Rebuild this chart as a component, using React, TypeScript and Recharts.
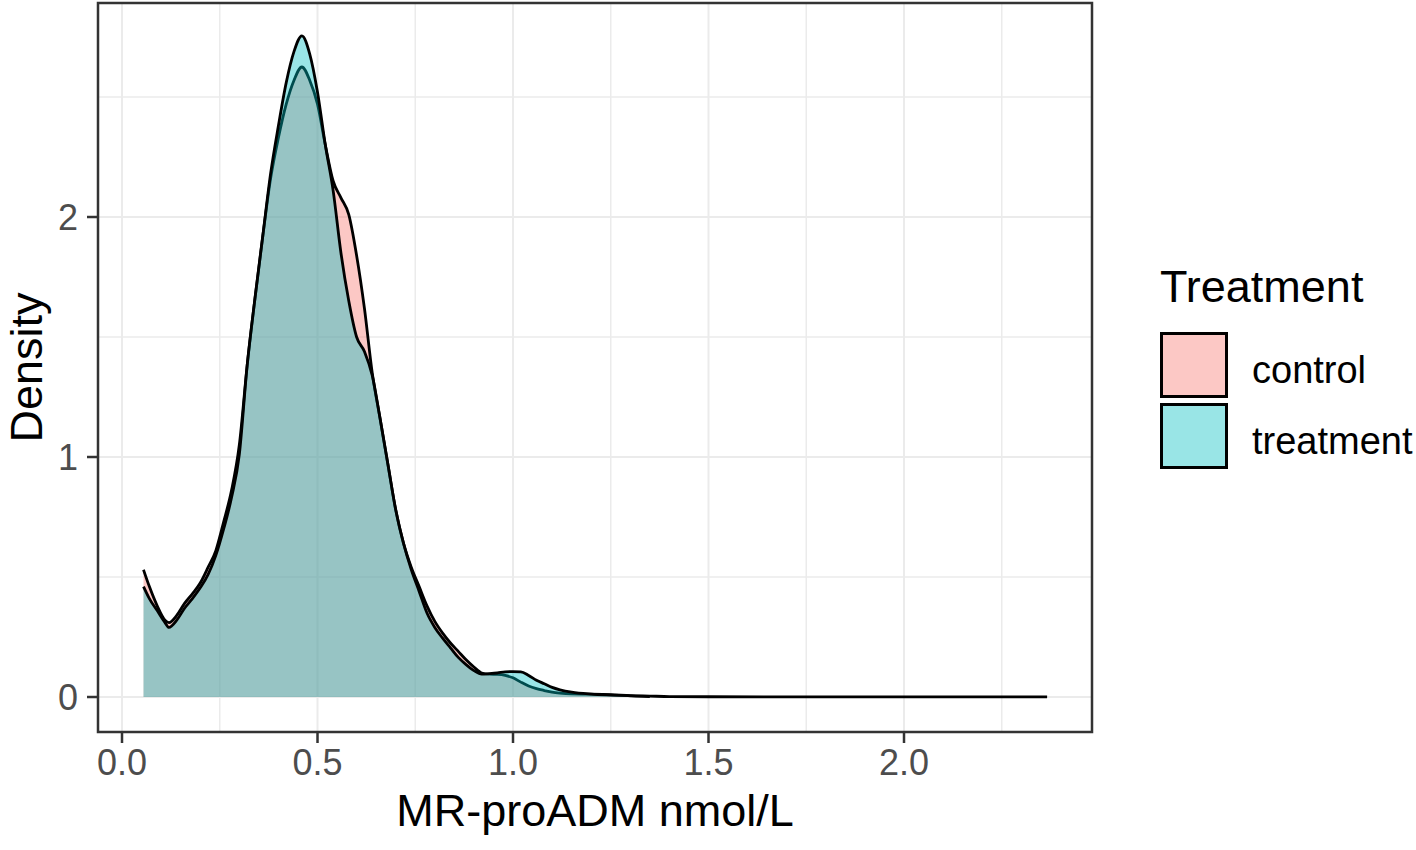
import React from 'react';
import {
  ComposedChart,
  Area,
  XAxis,
  YAxis,
  CartesianGrid,
  ReferenceArea,
  Legend,
} from 'recharts';

const xs = [
  0.055, 0.07, 0.09, 0.11, 0.12, 0.14, 0.16, 0.18, 0.2, 0.22, 0.24, 0.26, 0.28, 0.3,
  0.32, 0.34, 0.36, 0.38, 0.4, 0.42, 0.44, 0.46, 0.48, 0.5, 0.52, 0.54, 0.56, 0.58,
  0.6, 0.62, 0.64, 0.66, 0.68, 0.7, 0.72, 0.74, 0.76, 0.78, 0.8, 0.82, 0.84, 0.86,
  0.88, 0.9, 0.92, 0.94, 0.96, 0.98, 1.0, 1.02, 1.04, 1.06, 1.08, 1.1, 1.12, 1.15,
  1.2, 1.25, 1.3, 1.35, 1.4, 1.5, 1.75, 2.0, 2.25, 2.366,
];

const control = [
  0.53, 0.46, 0.38, 0.32, 0.31, 0.34, 0.39, 0.43, 0.475, 0.54, 0.61, 0.73, 0.86, 1.05,
  1.38, 1.66, 1.92, 2.16, 2.33, 2.47, 2.57, 2.625, 2.57, 2.47, 2.3, 2.15, 2.08, 2.01,
  1.84, 1.62, 1.35, 1.16, 0.97, 0.78, 0.64, 0.54, 0.46, 0.38, 0.315, 0.266, 0.225, 0.19,
  0.155, 0.125, 0.1, 0.095, 0.094, 0.09, 0.08, 0.062, 0.046, 0.035, 0.027, 0.02, 0.016, 0.013,
  0.012, 0.01, 0.006, 0.004, 0.002, 0.001, 0.0005, 0.0003, 0.0002, 0.0002,
];

const treatment = [
  0.46, 0.41, 0.36, 0.31, 0.29, 0.32, 0.37, 0.41, 0.455, 0.51, 0.59, 0.7, 0.83, 1.01,
  1.38, 1.66, 1.92, 2.18, 2.38, 2.56, 2.69, 2.755, 2.68, 2.52, 2.3, 2.11, 1.85, 1.65,
  1.5, 1.44, 1.34, 1.16, 0.97, 0.78, 0.64, 0.53, 0.44, 0.35, 0.29, 0.245, 0.205, 0.165,
  0.135, 0.11, 0.095, 0.097, 0.1, 0.105, 0.106, 0.105, 0.09, 0.07, 0.055, 0.04, 0.03, 0.02,
  0.012, 0.008, 0.005, 0.002, null, null, null, null, null, null,
];

const xTicks = [0, 0.5, 1, 1.5, 2];
const xMinor = [0.25, 0.75, 1.25, 1.75, 2.25];
const yTicks = [0, 1, 2];
const yMinor = [0.5, 1.5, 2.5];

const X_DOMAIN: [number, number] = [-0.0614, 2.4808];
const Y_DOMAIN: [number, number] = [-0.1458, 2.8917];

const data = xs.map((x, i) => ({ x, control: control[i], treatment: treatment[i] }));

const FONT = '"Liberation Sans", Arial, Helvetica, sans-serif';
const keyFills: Record<string, string> = { control: '#FCC8C5', treatment: '#99E5E6' };

const renderLegend = (props: any) => {
  const payload = props.payload || [];
  return (
    <div style={{ fontFamily: FONT, color: '#000', textAlign: 'left' }}>
      <div style={{ fontSize: 45, lineHeight: '50px', whiteSpace: 'nowrap' }}>Treatment</div>
      <div style={{ marginTop: 20 }}>
        {payload.map((entry: any) => (
          <div key={entry.value} style={{ display: 'flex', height: 66, marginBottom: 5 }}>
            <div
              style={{
                width: 68,
                height: 66,
                boxSizing: 'border-box',
                border: '3px solid #000',
                background: keyFills[entry.dataKey] || '#ccc',
              }}
            />
            <div style={{ marginLeft: 24, fontSize: 38, lineHeight: '66px', paddingTop: 5, whiteSpace: 'nowrap' }}>
              {entry.value}
            </div>
          </div>
        ))}
      </div>
    </div>
  );
};

const DensityLabel = (props: any) => {
  const vb = props.viewBox || { x: 0, y: 0, width: 0, height: 0 };
  const cx = vb.x + 42;
  const cy = vb.y + vb.height / 2;
  return (
    <text
      x={cx}
      y={cy}
      transform={`rotate(-90 ${cx} ${cy})`}
      textAnchor="middle"
      fontSize={45}
      fontFamily={FONT}
      fill="#000"
    >
      Density
    </text>
  );
};

export default function App() {
  return (
    <div style={{ position: 'absolute', left: 0, top: 0, width: 1416, height: 850, background: '#fff' }}>
      <ComposedChart
        width={1416}
        height={850}
        data={data}
        margin={{ top: 3, right: 324, bottom: 0, left: 0 }}
        style={{ fontFamily: FONT }}
      >
        <CartesianGrid
          stroke="#EBEBEB"
          strokeWidth={1.5}
          horizontalValues={yMinor}
          verticalValues={xMinor}
        />
        <CartesianGrid stroke="#EBEBEB" strokeWidth={2} />
        <XAxis
          dataKey="x"
          type="number"
          domain={X_DOMAIN}
          allowDataOverflow
          ticks={xTicks}
          tickFormatter={(v: number) => v.toFixed(1)}
          axisLine={false}
          tickLine={{ stroke: '#333333', strokeWidth: 2.5 }}
          tickSize={11}
          tickMargin={6}
          tick={{ fill: '#4D4D4D', fontSize: 36, fontFamily: FONT }}
          height={118}
          label={{
            value: 'MR-proADM nmol/L',
            position: 'insideBottom',
            offset: 24,
            fontSize: 45,
            fill: '#000',
            fontFamily: FONT,
          }}
        />
        <YAxis
          type="number"
          domain={Y_DOMAIN}
          allowDataOverflow
          ticks={yTicks}
          axisLine={false}
          tickLine={{ stroke: '#333333', strokeWidth: 2.5 }}
          tickSize={11}
          tickMargin={9}
          tick={{ fill: '#4D4D4D', fontSize: 36, fontFamily: FONT }}
          width={98}
          label={<DensityLabel />}
        />
        <Area
          name="control"
          dataKey="control"
          type="monotone"
          fill="#F8766D"
          fillOpacity={0.4}
          stroke="#000"
          strokeWidth={2.8}
          baseValue={0}
          isAnimationActive={false}
          dot={false}
          activeDot={false}
        />
        <Area
          name="treatment"
          dataKey="treatment"
          type="monotone"
          fill="#00BFC4"
          fillOpacity={0.4}
          stroke="#000"
          strokeWidth={2.8}
          baseValue={0}
          isAnimationActive={false}
          dot={false}
          activeDot={false}
        />
        <ReferenceArea
          x1={X_DOMAIN[0]}
          x2={X_DOMAIN[1]}
          y1={Y_DOMAIN[0]}
          y2={Y_DOMAIN[1]}
          fill="none"
          fillOpacity={0}
          stroke="#333333"
          strokeWidth={2.5}
          ifOverflow="visible"
        />
        <Legend
          layout="vertical"
          align="center"
          verticalAlign="middle"
          content={renderLegend}
          wrapperStyle={{ left: 1160, top: 262, width: 256 }}
        />
      </ComposedChart>
    </div>
  );
}
